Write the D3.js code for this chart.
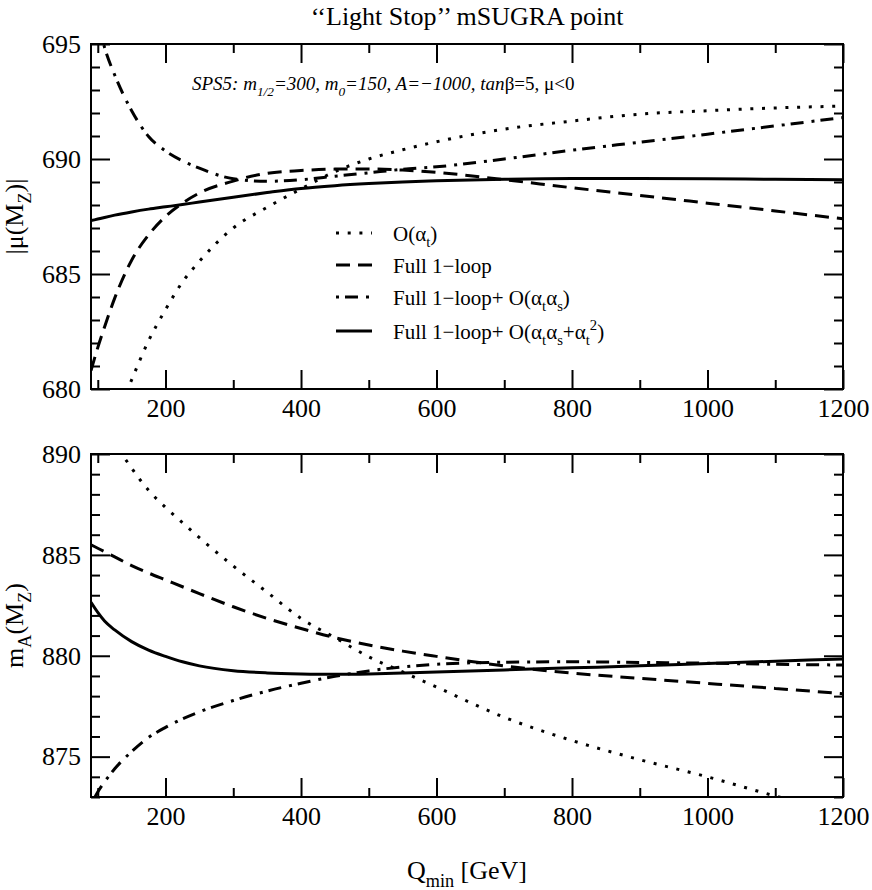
<!DOCTYPE html>
<html>
<head>
<meta charset="utf-8">
<script src="https://cdn.jsdelivr.net/npm/d3@7"></script>
<style>
  body { margin: 0; background: #fff; }
  text { font-family: "Liberation Serif", "Times New Roman", serif; fill: #000; }
</style>
</head>
<body>
<script>
// page and panel geometry
var W = 872;
var H = 890;
var Left = 91;
var Right = 843;
var TopPanel = { top: 44, bottom: 389 };
var BotPanel = { top: 454, bottom: 797 };
var FontSize = 26;
var SerifFont = "Liberation Serif, Times New Roman, serif";
var MajorTick = 19;
var MinorTick = 9;

// Q_min grid [GeV], shared by all curves
var qMin = [90, 100, 110, 125, 150, 175, 200, 225, 250, 300, 350, 400, 450, 500, 550, 600, 700, 800, 900, 1000, 1100, 1200];

// |mu(MZ)| curves (upper panel)
var muAt     = [675.0, 676.3, 677.4, 678.6, 680.4, 682.1, 683.45, 684.65, 685.55, 687.0, 687.9, 688.7, 689.45, 690.0, 690.4, 690.75, 691.3, 691.65, 691.95, 692.1, 692.22, 692.3];
var muFull   = [680.8, 681.8, 682.7, 683.95, 685.6, 686.7, 687.5, 688.08, 688.52, 689.04, 689.38, 689.5, 689.56, 689.57, 689.52, 689.42, 689.1, 688.75, 688.42, 688.08, 687.74, 687.4];
var muAtAs   = [697.5, 696.0, 694.85, 693.65, 692.1, 690.98, 690.35, 689.92, 689.6, 689.14, 689.03, 689.1, 689.25, 689.4, 689.55, 689.66, 690.0, 690.38, 690.73, 691.08, 691.44, 691.8];
var muAll    = [687.32, 687.39, 687.46, 687.56, 687.7, 687.82, 687.92, 688.02, 688.13, 688.34, 688.54, 688.72, 688.84, 688.93, 689.0, 689.05, 689.12, 689.15, 689.15, 689.14, 689.12, 689.1];

// m_A(MZ) curves (lower panel)
var mAAt     = [894.0, 892.9, 891.9, 890.65, 889.3, 888.2, 887.35, 886.6, 885.85, 884.45, 883.15, 881.85, 880.9, 879.95, 879.2, 878.45, 876.95, 875.8, 874.85, 874.0, 873.05, 872.2];
var mAFull   = [885.5, 885.33, 885.16, 884.9, 884.47, 884.1, 883.76, 883.42, 883.08, 882.43, 881.85, 881.35, 880.9, 880.53, 880.23, 879.97, 879.5, 879.14, 878.88, 878.63, 878.38, 878.12];
var mAAtAs   = [872.6, 873.25, 873.75, 874.4, 875.25, 875.95, 876.45, 876.87, 877.22, 877.78, 878.25, 878.64, 878.98, 879.25, 879.45, 879.58, 879.68, 879.7, 879.67, 879.63, 879.58, 879.54];
var mAAll    = [882.65, 882.15, 881.72, 881.28, 880.7, 880.28, 879.97, 879.7, 879.5, 879.26, 879.15, 879.1, 879.08, 879.1, 879.15, 879.2, 879.3, 879.4, 879.5, 879.62, 879.73, 879.84];

// axis ranges and ticks
var xDomain = [90, 1200];
var xMajor = [200, 400, 600, 800, 1000, 1200];
var xMinor = [100, 300, 500, 700, 900, 1100];
var muDomain = [680, 695];
var muMajor = [680, 685, 690, 695];
var mADomain = [873, 890];
var mAMajor = [875, 880, 885, 890];

// line styles, one per series (order matches the legend)
var styles = [
  { dash: "3,8.7" },
  { dash: "14,8" },
  { dash: "3,6,13,8" },
  { dash: null }
];

// legend labels as pieces (sub/sup marked)
var legendLabels = [
  [{ t: "O(α" }, { t: "t", sub: 1 }, { t: ")" }],
  [{ t: "Full 1−loop" }],
  [{ t: "Full 1−loop+ O(α" }, { t: "t", sub: 1 }, { t: "α" }, { t: "s", sub: 1 }, { t: ")" }],
  [{ t: "Full 1−loop+ O(α" }, { t: "t", sub: 1 }, { t: "α" }, { t: "s", sub: 1 }, { t: "+α" }, { t: "t", sub: 1 }, { t: "2", sup: 1 }, { t: ")" }]
];
var legendRows = [233, 265, 297, 331];


function main() {
  var svg = d3.select("body")
      .append("svg")
      .attr("width", W)
      .attr("height", H);

  var x = d3.scaleLinear().domain(xDomain).range([Left, Right]);
  var yTop = d3.scaleLinear().domain(muDomain).range([TopPanel.bottom, TopPanel.top]);
  var yBot = d3.scaleLinear().domain(mADomain).range([BotPanel.bottom, BotPanel.top]);

  panel(svg, "clipTop", x, yTop, TopPanel, [muAt, muFull, muAtAs, muAll], muMajor);
  panel(svg, "clipBot", x, yBot, BotPanel, [mAAt, mAFull, mAAtAs, mAAll], mAMajor);

  // title
  svg.append("text")
      .attr("x", (Left + Right) / 2)
      .attr("y", 25)
      .attr("text-anchor", "middle")
      .attr("font-size", FontSize)
      .text("‘‘Light Stop’’ mSUGRA point");

  // parameter note
  var note = svg.append("text")
      .attr("x", 192)
      .attr("y", 90)
      .attr("font-size", 19);
  richText(note, [
    { t: "SPS5: m", it: 1 }, { t: "1/2", sub: 1, it: 1 }, { t: "=300, m", it: 1 }, { t: "0", sub: 1, it: 1 },
    { t: "=150, A=−1000, tan", it: 1 }, { t: "β=5, μ<0" }
  ], 19);

  // legend
  legendRows.forEach(function(ly, i) {
    svg.append("line")
        .attr("x1", 336).attr("x2", 372)
        .attr("y1", ly).attr("y2", ly)
        .attr("stroke", "#000")
        .attr("stroke-width", 3)
        .attr("stroke-dasharray", styles[i].dash);
    var t = svg.append("text")
        .attr("x", 393)
        .attr("y", ly + 8)
        .attr("font-size", 21);
    richText(t, legendLabels[i], 21);
  });

  // y titles
  var yt1 = svg.append("text")
      .attr("transform", "translate(23," + (TopPanel.top + TopPanel.bottom) / 2 + ") rotate(-90)")
      .attr("text-anchor", "middle")
      .attr("font-size", FontSize);
  richText(yt1, [{ t: "|μ(M" }, { t: "Z", sub: 1 }, { t: ")|" }], FontSize);

  var yt2 = svg.append("text")
      .attr("transform", "translate(23," + (BotPanel.top + BotPanel.bottom) / 2 + ") rotate(-90)")
      .attr("text-anchor", "middle")
      .attr("font-size", FontSize);
  richText(yt2, [{ t: "m" }, { t: "A", sub: 1 }, { t: "(M" }, { t: "Z", sub: 1 }, { t: ")" }], FontSize);

  // x title
  var xt = svg.append("text")
      .attr("x", (Left + Right) / 2)
      .attr("y", 879)
      .attr("text-anchor", "middle")
      .attr("font-size", FontSize);
  richText(xt, [{ t: "Q" }, { t: "min", sub: 1 }, { t: " [GeV]" }], FontSize);
}


function panel(svg, clipId, x, y, box, series, yMajor) {
  //Draws one framed panel with its four curves and inward ticks
  var yd = y.domain();
  var yMinor = d3.range(Math.ceil(yd[0]), yd[1] + 0.001, 1).filter(function(v) {
    return yMajor.indexOf(v) < 0;
  });

  svg.append("clipPath")
      .attr("id", clipId)
      .append("rect")
      .attr("x", Left)
      .attr("y", box.top)
      .attr("width", Right - Left)
      .attr("height", box.bottom - box.top);

  var line = d3.line()
      .x(function(d, i) { return x(qMin[i]); })
      .y(function(d) { return y(d); })
      .curve(d3.curveMonotoneX);

  var g = svg.append("g").attr("clip-path", "url(#" + clipId + ")");
  series.forEach(function(s, i) {
    g.append("path")
        .attr("d", line(s))
        .attr("fill", "none")
        .attr("stroke", "#000")
        .attr("stroke-width", 3)
        .attr("stroke-dasharray", styles[i].dash);
  });

  // ticks: labelled bottom/left, mirrored on top/right
  addAxis(svg, d3.axisBottom(x).tickValues(xMajor).tickSize(-MajorTick).tickPadding(9.5).tickFormat(d3.format("d")), "translate(0," + box.bottom + ")", true);
  addAxis(svg, d3.axisBottom(x).tickValues(xMinor).tickSize(-MinorTick).tickFormat(""), "translate(0," + box.bottom + ")");
  addAxis(svg, d3.axisTop(x).tickValues(xMajor).tickSize(-MajorTick).tickFormat(""), "translate(0," + box.top + ")");
  addAxis(svg, d3.axisTop(x).tickValues(xMinor).tickSize(-MinorTick).tickFormat(""), "translate(0," + box.top + ")");
  addAxis(svg, d3.axisLeft(y).tickValues(yMajor).tickSize(-MajorTick).tickPadding(10).tickFormat(d3.format("d")), "translate(" + Left + ",0)", true);
  addAxis(svg, d3.axisLeft(y).tickValues(yMinor).tickSize(-MinorTick).tickFormat(""), "translate(" + Left + ",0)");
  addAxis(svg, d3.axisRight(y).tickValues(yMajor).tickSize(-MajorTick).tickFormat(""), "translate(" + Right + ",0)");
  addAxis(svg, d3.axisRight(y).tickValues(yMinor).tickSize(-MinorTick).tickFormat(""), "translate(" + Right + ",0)");

  svg.append("rect")
      .attr("x", Left)
      .attr("y", box.top)
      .attr("width", Right - Left)
      .attr("height", box.bottom - box.top)
      .attr("fill", "none")
      .attr("stroke", "#000")
      .attr("stroke-width", 2);
}

function addAxis(svg, axis, transform, labelled) {
  var g = svg.append("g")
      .attr("transform", transform)
      .call(axis.tickSizeOuter(0));
  g.attr("font-family", SerifFont).attr("font-size", FontSize);
  g.select(".domain").remove();
  g.selectAll(".tick line").attr("stroke", "#000").attr("stroke-width", 2);
  if (labelled) {
    g.selectAll(".tick text")
        .attr("font-size", FontSize)
        .attr("font-family", SerifFont)
        .attr("fill", "#000");
  } else {
    g.selectAll(".tick text").remove();
  }
}

function richText(sel, parts, size) {
  //Appends tspans with simple sub/superscripts
  var shift = 0;
  parts.forEach(function(p) {
    var target = p.sub ? size * 0.3 : (p.sup ? -size * 0.42 : 0);
    var t = sel.append("tspan")
        .attr("dy", target - shift)
        .text(p.t);
    shift = target;
    if (p.sub || p.sup) t.attr("font-size", size * 0.7);
    if (p.it) t.attr("font-style", "italic");
  });
}

main();
</script>
</body>
</html>
